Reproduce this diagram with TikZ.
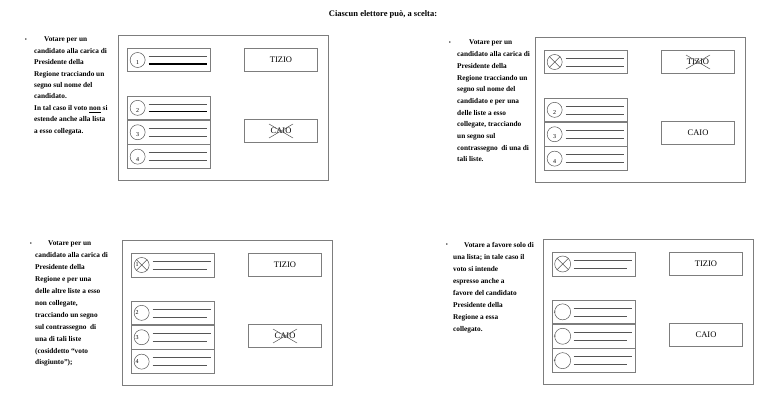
\documentclass[tikz,border=0pt]{standalone}
\usepackage{fontspec}
\setmainfont{Liberation Serif}
\usepackage{xcolor}
\usetikzlibrary{positioning}
\definecolor{sLine}{RGB}{125,125,125}
\definecolor{sInk}{RGB}{85,85,85}
\tikzset{
  scheda/.style={rectangle, draw=sLine, line width=0.7pt, minimum width=210pt,
                 minimum height=145pt, inner sep=0pt},
  lista/.style={rectangle, draw=sLine, line width=0.7pt, minimum width=83pt,
                minimum height=23.7pt, inner sep=0pt},
  nome/.style={rectangle, draw=sLine, line width=0.7pt, minimum width=73.5pt,
               minimum height=23.5pt, inner sep=0pt, font=\fontsize{8.5}{9}\selectfont},
  tondo/.style={circle, draw=sInk, line width=0.5pt, minimum size=15pt, inner sep=0pt},
  riga/.style={draw=sInk, line width=0.6pt},
  segno/.style={draw=sInk, line width=0.5pt},
  numbase/.style={font=\fontsize{6}{6}\selectfont, inner sep=0pt},
  num/.style={numbase, yshift=-2.5pt},
  testo/.style={anchor=north west, align=left, inner sep=0pt,
                font=\bfseries\fontsize{7.3}{#1}\selectfont},
  punto/.style={font=\fontsize{6}{6}\selectfont, inner sep=0pt},
}
% frame of one ballot, in its own local coordinates
\newcommand{\Scheda}{%
  \node[scheda] (s) at (105,72.5) {};
  \node[lista] (l1) at (51,25) {};
  \node[nome] (n1) at (163,25) {TIZIO};
  \node[lista] (l2) at (51,72.85) {};
  \node[lista, below=0pt of l2] (l3) {};
  \node[lista, below=0pt of l3] (l4) {};
  \node[nome] (n2) at (163,96) {CAIO};}
% symbol and the two lines of a list
\newcommand{\Voce}[4]{%
  \node[tondo] (#1c) at ([xshift=10.5pt]#1.west) {};
  \node[num] (#1n) at (#1c) {#2};
  \draw[riga] ([xshift=21.5pt,yshift=4pt]#1.west) -- ([xshift=-3.5pt,yshift=4pt]#1.east);
  \draw[riga,#4] ([xshift=21.5pt,yshift=-4pt]#1.west) -- ([xshift=-#3,yshift=-4pt]#1.east);}
\newcommand{\Croce}[1]{%
  \draw[segno] (#1.north west) -- (#1.south east) (#1.north east) -- (#1.south west);}
\newcommand{\Barra}[1]{%
  \draw[segno] ([shift={(-12,-7)}]#1.center) -- ([shift={(12,7)}]#1.center)
               ([shift={(-12,7)}]#1.center) -- ([shift={(12,-7)}]#1.center);}

\begin{document}
\begin{tikzpicture}[x=1pt, y=-1pt]
  \useasboundingbox (0,0) rectangle (767,414);

  \node[font=\bfseries\fontsize{8.5}{10}\selectfont] (titolo) at (383,14)
    {Ciascun elettore può, a scelta:};

  % --- top left: candidate only ---
  \node[punto] (b1) at (26,40) {•};
  \node[testo=11.4] (t1) at (34,37) {\hspace*{10pt}Votare per un\\
    candidato alla carica di\\ Presidente della\\ Regione tracciando un\\
    segno sul nome del\\ candidato.\\ In tal caso il voto \underline{non} si\\
    estende anche alla lista\\ a esso collegata.};
  \begin{scope}[shift={(118,35)}, name prefix=a-]
    \Scheda
    \Voce{l1}{1}{3.5pt}{draw=black, line width=1.1pt}
    \Voce{l2}{2}{3.5pt}{draw=black, line width=1.1pt}
    \Voce{l3}{3}{3.5pt}{}
    \Voce{l4}{4}{3.5pt}{}
    \Barra{n2}
  \end{scope}

  % --- top right: candidate and a linked list ---
  \node[punto] (b2) at (450,43) {•};
  \node[testo=11.7] (t2) at (457,40) {\hspace*{12pt}Votare per un\\
    candidato alla carica di\\ Presidente della\\ Regione tracciando un\\
    segno sul nome del\\ candidato e per una\\ delle liste a esso\\
    collegate, tracciando\\ un segno sul\\ contrassegno\ \ di una di\\ tali liste.};
  \begin{scope}[shift={(535,37)}, name prefix=b-]
    \Scheda
    \Voce{l1}{}{3.5pt}{}
    \Croce{l1c}
    \Voce{l2}{2}{3.5pt}{}
    \Voce{l3}{3}{3.5pt}{}
    \Voce{l4}{4}{3.5pt}{}
    \Barra{n1}
  \end{scope}

  % --- bottom left: split vote ---
  \node[punto] (b3) at (31,244) {•};
  \node[testo=11.9] (t3) at (35,241) {\hspace*{13pt}Votare per un\\
    candidato alla carica di\\ Presidente della\\ Regione e per una\\
    delle altre liste a esso\\ non collegate,\\ tracciando un segno\\
    sul contrassegno\ \ di\\ una di tali liste\\ (cosiddetto “voto\\ disgiunto”);};
  \begin{scope}[shift={(122,240)}, name prefix=c-,
                num/.style={numbase, xshift=-4.5pt}]
    \Scheda
    \Voce{l1}{1}{7.5pt}{}
    \Croce{l1c}
    \Voce{l2}{2}{7.5pt}{}
    \Voce{l3}{3}{7.5pt}{}
    \Voce{l4}{4}{7.5pt}{}
    \Barra{n2}
  \end{scope}

  % --- bottom right: list only ---
  \node[punto] (b4) at (447,245) {•};
  \node[testo=12] (t4) at (453,242) {\hspace*{11pt}Votare a favore solo di\\
    una lista; in tale caso il\\ voto si intende\\ espresso anche a\\
    favore del candidato\\ Presidente della\\ Regione a essa\\ collegato.};
  \begin{scope}[shift={(543,239)}, name prefix=d-,
                num/.style={font=\fontsize{3.5}{4}\selectfont, inner sep=0pt, xshift=-8pt},
                tondo/.append style={minimum size=16pt}]
    \Scheda
    \Voce{l1}{}{9pt}{}
    \Croce{l1c}
    \Voce{l2}{2}{9pt}{}
    \Voce{l3}{3}{9pt}{}
    \Voce{l4}{4}{9pt}{}
  \end{scope}
\end{tikzpicture}
\end{document}
